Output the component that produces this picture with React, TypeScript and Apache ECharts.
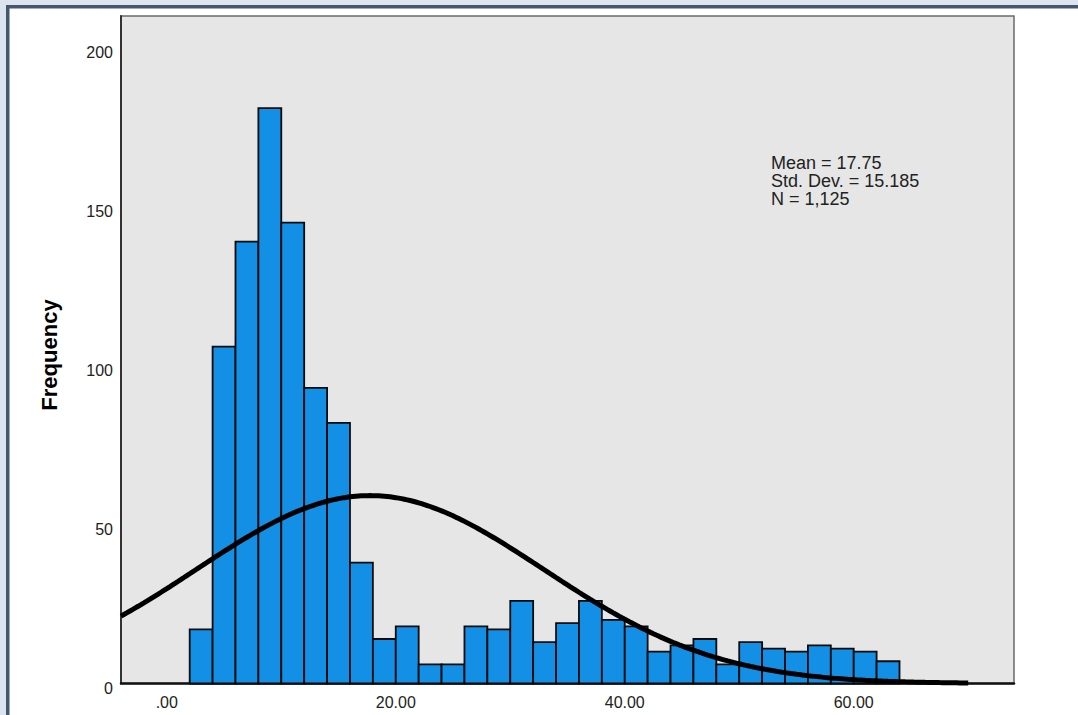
import React, { useEffect, useRef } from "react";
import * as echarts from "echarts";

// Histogram data
const binStart = 2;
const binWidth = 2;
const counts = [17, 106, 139, 181, 145, 93, 82, 38, 14, 18, 6, 6, 18, 17, 26, 13, 19, 26, 20, 18, 10, 12, 14, 6, 13, 11, 10, 12, 11, 10, 7];

// Axis ticks
const xTicks = [0, 20, 40, 60];
const xTickLabels = [".00", "20.00", "40.00", "60.00"];
const yTicks = [0, 50, 100, 150, 200];

// Summary statistics (fitted normal curve)
const mean = 17.75;
const stdDev = 15.185;
const nTotal = 1125;
const statsLines = ["Mean = 17.75", "Std. Dev. = 15.185", "N = 1,125"];
const curveFrom = -4;
const curveTo = 70;

const FONT = "'Liberation Sans', Arial, sans-serif";

export default function App() {
  const ref = useRef<HTMLDivElement>(null);

  useEffect(() => {
    document.body.style.margin = "0";
    if (!ref.current) return;
    const chart = echarts.init(ref.current, undefined, { renderer: "svg" });

    const barData = counts.map((c, i) => [binStart + i * binWidth, binStart + (i + 1) * binWidth, c]);

    const curve: number[][] = [];
    const steps = 296;
    for (let k = 0; k <= steps; k++) {
      const x = curveFrom + ((curveTo - curveFrom) * k) / steps;
      const z = (x - mean) / stdDev;
      const y = (nTotal * binWidth * Math.exp(-0.5 * z * z)) / (stdDev * Math.sqrt(2 * Math.PI));
      curve.push([x, y]);
    }

    chart.setOption({
      animation: false,
      backgroundColor: "#ffffff",
      grid: {
        left: 121,
        top: 16,
        width: 893,
        height: 667.5,
        show: true,
        backgroundColor: "#e6e6e6",
        borderColor: "#6a6a6a",
        borderWidth: 1.5,
      },
      xAxis: {
        type: "value",
        min: -4,
        max: 74,
        axisLine: { show: true, onZero: false, lineStyle: { color: "#111", width: 2.5 } },
        axisTick: { show: false },
        splitLine: { show: false },
        axisLabel: {
          customValues: xTicks,
          margin: 11,
          fontFamily: FONT,
          fontSize: 16,
          color: "#222",
          formatter: (v: number) => {
            const i = xTicks.indexOf(v);
            return i >= 0 ? xTickLabels[i] : "";
          },
        },
      },
      yAxis: {
        type: "value",
        min: 0,
        max: 210,
        axisLine: { show: true, onZero: false, lineStyle: { color: "#333", width: 2 } },
        axisTick: { show: false },
        splitLine: { show: false },
        axisLabel: {
          customValues: yTicks,
          margin: 8,
          fontFamily: FONT,
          fontSize: 16,
          color: "#222",
          verticalAlign: "top",
          lineHeight: 10,
        },
      },
      graphic: [
        { type: "rect", z: 100, shape: { x: 0, y: 0, width: 1078, height: 5 }, style: { fill: "#dce5ef" } },
        { type: "rect", z: 100, shape: { x: 0, y: 0, width: 6, height: 715 }, style: { fill: "#dce5ef" } },
        { type: "rect", z: 100, shape: { x: 6, y: 5, width: 1072, height: 3.5 }, style: { fill: "#46566c" } },
        { type: "rect", z: 100, shape: { x: 6, y: 5, width: 3.5, height: 710 }, style: { fill: "#46566c" } },
        {
          type: "text",
          z: 100,
          x: 49,
          y: 355,
          rotation: Math.PI / 2,
          style: {
            text: "Frequency",
            fontFamily: FONT,
            fontSize: 22,
            fontWeight: "bold",
            fill: "#000",
            align: "center",
            verticalAlign: "middle",
          },
        },
        {
          type: "text",
          z: 100,
          x: 771,
          y: 154,
          style: {
            text: statsLines.join("\n"),
            fontFamily: FONT,
            fontSize: 18,
            lineHeight: 18,
            fill: "#222",
            align: "left",
            verticalAlign: "top",
          },
        },
      ],
      series: [
        {
          type: "custom",
          data: barData,
          z: 2,
          renderItem: (params: any, api: any) => {
            const x0 = api.value(0);
            const x1 = api.value(1);
            const c = api.value(2);
            const p0 = api.coord([x0, c]);
            const p1 = api.coord([x1, 0]);
            return {
              type: "rect",
              shape: { x: p0[0], y: p0[1], width: p1[0] - p0[0], height: p1[1] - p0[1] },
              style: { fill: "#1390e5", stroke: "#0a0a0a", lineWidth: 1.8 },
            };
          },
        },
        {
          type: "line",
          data: curve,
          z: 3,
          showSymbol: false,
          symbol: "none",
          lineStyle: { color: "#000", width: 5 },
          silent: true,
        },
      ],
    });

    return () => chart.dispose();
  }, []);

  return <div ref={ref} style={{ width: 1078, height: 715, background: "#fff" }} />;
}
